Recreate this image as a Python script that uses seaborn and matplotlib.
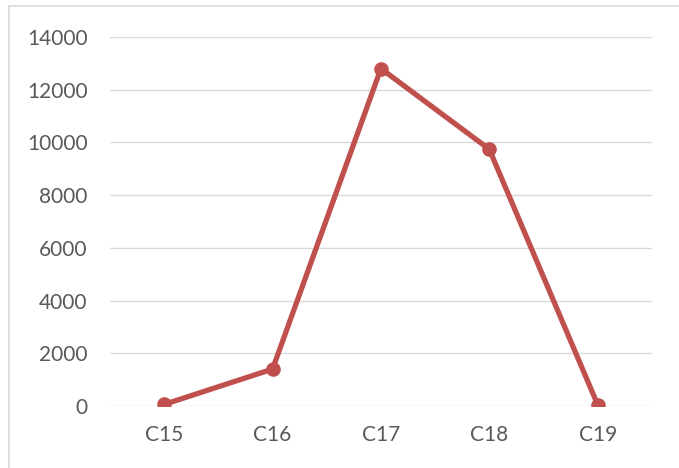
import matplotlib
matplotlib.use("Agg")
import matplotlib.pyplot as plt
import seaborn as sns
import pandas as pd
from matplotlib.lines import Line2D

# data
categories = ["C15", "C16", "C17", "C18", "C19"]
values = [60, 1400, 12800, 9740, 50]
y_ticks = [0, 2000, 4000, 6000, 8000, 10000, 12000, 14000]

sns.set_theme(style="white")
plt.rcParams['font.family'] = ['Lato', 'DejaVu Sans']

df = pd.DataFrame({"category": categories, "value": values})

fig = plt.figure(figsize=(6.79, 4.68), dpi=100)
ax = fig.add_axes([0.162, 0.1325, 0.798, 0.7885])

sns.lineplot(data=df, x="category", y="value", ax=ax, color="#C0504D",
             linewidth=3.8, marker="o", markersize=10.5, markeredgewidth=0,
             sort=False, zorder=3)

ax.set_xlim(-0.5, len(categories) - 0.5)
ax.set_ylim(0, 14000)
ax.set_yticks(y_ticks)
ax.set_yticklabels([str(t) for t in y_ticks])
ax.yaxis.grid(True, color="#D9D9D9", linewidth=1.0)
ax.set_axisbelow(True)
for s in ax.spines.values():
    s.set_visible(False)
ax.tick_params(axis="both", length=0, labelsize=15, colors="#595959")
ax.tick_params(axis="y", pad=16)
ax.tick_params(axis="x", pad=14)
ax.set_xlabel("")
ax.set_ylabel("")

# chart-area border (only left and top visible in the crop)
fig.add_artist(Line2D([9 / 679, 9 / 679], [0, 1 - 6 / 468], color="#D9D9D9", linewidth=1.2))
fig.add_artist(Line2D([9 / 679, 1], [1 - 6 / 468, 1 - 6 / 468], color="#D9D9D9", linewidth=1.2))

fig.savefig("out.png", dpi=100, facecolor="white")
